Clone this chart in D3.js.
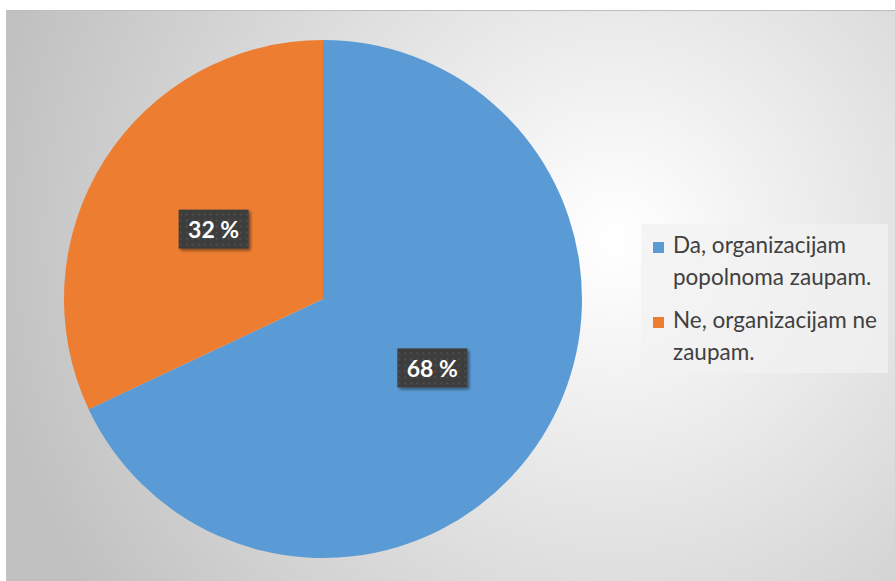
<!DOCTYPE html>
<html>
<head>
<meta charset="utf-8">
<script src="https://cdn.jsdelivr.net/npm/d3@7/dist/d3.min.js"></script>
<style>
html,body{margin:0;padding:0;background:#fff;}
svg{display:block;}
</style>
</head>
<body>
<svg id="chart" width="895" height="581"></svg>
<script>
const categories = ["Da, organizacijam popolnoma zaupam.", "Ne, organizacijam ne zaupam."];
const legendLines = [["Da, organizacijam", "popolnoma zaupam."], ["Ne, organizacijam ne", "zaupam."]];
const values = [68, 32];
const labels = ["68 %", "32 %"];
const colors = ["#5B9BD5", "#ED7D31"];

const svg = d3.select("#chart");
const defs = svg.append("defs");

const bg = defs.append("radialGradient").attr("id","bg")
  .attr("gradientUnits","userSpaceOnUse")
  .attr("cx",615).attr("cy",240).attr("r",640);
bg.append("stop").attr("offset","0").attr("stop-color","#ffffff");
bg.append("stop").attr("offset","0.08").attr("stop-color","#fbfbfb");
bg.append("stop").attr("offset","1").attr("stop-color","#c0c0c0");

const pat = defs.append("pattern").attr("id","dots")
  .attr("patternUnits","userSpaceOnUse").attr("width",6).attr("height",6);
pat.append("rect").attr("width",6).attr("height",6).attr("fill","#3d3d3d");
pat.append("rect").attr("x",2).attr("y",2).attr("width",2).attr("height",2).attr("fill","#4e4e4e");

const sh = defs.append("filter").attr("id","shadow").attr("x","-20%").attr("y","-20%").attr("width","150%").attr("height","150%");
sh.append("feGaussianBlur").attr("in","SourceAlpha").attr("stdDeviation",1.5);
sh.append("feOffset").attr("dx",2).attr("dy",2).attr("result","ob");
sh.append("feComponentTransfer").append("feFuncA").attr("type","linear").attr("slope",0.45);
const mg = sh.append("feMerge");
mg.append("feMergeNode");
mg.append("feMergeNode").attr("in","SourceGraphic");

// chart area background
svg.append("rect").attr("x",6).attr("y",10).attr("width",889).attr("height",571).attr("fill","url(#bg)");
svg.append("line").attr("x1",6).attr("x2",895).attr("y1",10.5).attr("y2",10.5).attr("stroke","#bdbdbd").attr("stroke-width",1);
svg.append("line").attr("x1",6.5).attr("x2",6.5).attr("y1",10).attr("y2",581).attr("stroke","#c4c4c4").attr("stroke-width",1);

const cx = 323, cy = 299, R = 259;
const pie = d3.pie().sort(null).value(d => d);
const arcs = pie(values);
const arc = d3.arc().innerRadius(0).outerRadius(R);

const g = svg.append("g").attr("transform",`translate(${cx},${cy})`);
g.selectAll("path.slice").data(arcs).enter().append("path")
  .attr("class","slice")
  .attr("d",arc)
  .attr("fill",(d,i)=>colors[i]);

const lg = g.selectAll("g.lab").data(arcs).enter().append("g")
  .attr("class","lab")
  .attr("transform",d=>{const c=arc.centroid(d);return `translate(${c[0]},${c[1]})`;});
lg.append("rect").attr("x",-35).attr("y",-20).attr("width",70).attr("height",39)
  .attr("fill","url(#dots)").attr("filter","url(#shadow)");
lg.append("text").text((d,i)=>labels[i])
  .attr("text-anchor","middle").attr("dy","0.36em")
  .attr("font-family","Lato, 'Open Sans', sans-serif").attr("font-weight","bold")
  .attr("font-size",23).attr("fill","#ffffff");

// legend
const leg = svg.append("g");
leg.append("rect").attr("x",641).attr("y",224).attr("width",247).attr("height",149)
  .attr("fill","#f2f2f2").attr("fill-opacity",0.75);
const items = leg.selectAll("g.item").data(categories).enter().append("g").attr("class","item")
  .attr("transform",(d,i)=>`translate(653,${242+i*75})`);
items.append("rect").attr("width",11).attr("height",11).attr("fill",(d,i)=>colors[i]);
items.each(function(d,i){
  const t = d3.select(this).append("text").attr("x",20).attr("y",11)
    .attr("font-family","Lato, 'Open Sans', sans-serif").attr("font-size",22.5).attr("fill","#404040");
  legendLines[i].forEach((ln,j)=>{
    t.append("tspan").attr("x",20).attr("dy",j===0?0:32).text(ln);
  });
});
</script>
</body>
</html>
